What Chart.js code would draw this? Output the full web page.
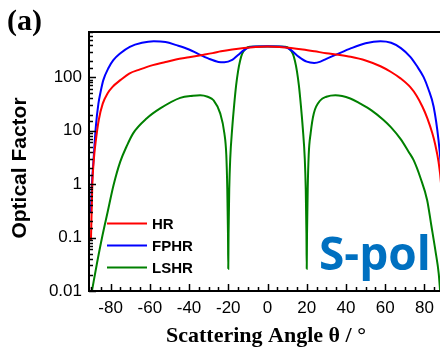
<!DOCTYPE html>
<html>
<head>
<meta charset="utf-8">
<script src="https://cdn.jsdelivr.net/npm/chart.js@4/dist/chart.umd.min.js"></script>
<style>
  html, body { margin: 0; padding: 0; background: #fff; overflow: hidden; }
  #wrap { width: 440px; height: 347px; overflow: hidden; position: relative; }
  canvas { display: block; }
</style>
</head>
<body>
<div id="wrap"><canvas id="chart" width="460" height="347"></canvas></div>
<script>
const seriesNames = ["HR", "FPHR", "LSHR"];
const seriesColors = ["#ff0000", "#0000ff", "#008000"];

const hrAngle = [-90, -89.3, -88.5, -87.5, -86, -84, -81.5, -79, -75, -70.5, -65, -58.5, -52, -46.7, -40, -34, -28, -23.7, -18, -12, -6, 0,
  6, 12, 18, 24, 30, 36, 42.4, 50, 57.6, 63, 67.8, 72.8, 76, 79, 81.5, 84, 85.5, 87.2, 88.5, 89.3, 90];
const hrValue = [0.09, 1, 3, 6.6, 16, 32, 50, 66, 88, 117, 140, 168, 192, 214, 236, 258, 282, 305, 330, 352, 368, 374,
  368, 352, 330, 305, 280, 262, 240, 205, 160, 125, 95, 65, 45, 28, 17, 9, 5.5, 2.6, 1, 0.3, 0.09];

const fphrAngle = [-90, -89.5, -88.7, -87.5, -86.2, -85, -83.7, -81, -78.6, -75, -70.2, -64, -58, -52, -46.4, -40, -35.6, -30, -25, -22, -18, -15, -12, -9, -5, 0,
  5, 9, 12, 16, 20, 23.8, 27, 30, 35.6, 42.4, 50, 57.6, 63, 68, 72.8, 76, 79.6, 82, 84.7, 87.2, 88.5, 89.5, 90];
const fphrValue = [0.3, 1, 2.8, 12, 32, 55, 88, 150, 208, 280, 370, 440, 470, 455, 397, 330, 275, 222, 193, 190, 210, 260, 320, 365, 375, 378,
  375, 365, 320, 240, 195, 185, 195, 220, 270, 345, 430, 470, 440, 350, 240, 165, 100, 60, 28, 6.6, 2, 0.5, 0.3];

const lshrAngle = [-89.5, -87, -84.4, -81.5, -78.5, -75.1, -71.8, -68.5, -61.5, -54.7, -44.5, -38, -34.3, -30.5, -27.5, -24.1, -22, -21, -20.5, -20.15, -20,
  -19.85, -19.5, -19, -18, -17, -16, -15, -14, -13, -11, -9, -4, 0,
  4, 9, 11, 13, 14, 15, 16, 17, 18, 19, 19.5, 19.85, 20,
  20.15, 20.5, 21, 22, 23.6, 27, 30, 34.6, 42.2, 47.3, 53, 59, 63, 67.8, 72, 74.5, 78, 81.4, 83.5, 85.6, 87.3, 88];
const lshrValue = [0.01, 0.032, 0.098, 0.3, 0.95, 2.6, 5.1, 8.9, 17, 26, 41, 45, 46, 43, 37, 21, 9, 3.5, 0.8, 0.12, 0.026,
  0.12, 0.8, 3, 11, 30, 70, 130, 200, 270, 345, 370, 375, 376,
  375, 370, 345, 270, 200, 130, 70, 30, 11, 3, 0.8, 0.12, 0.026,
  0.12, 0.8, 3.5, 9, 21, 37, 43, 46, 40, 32, 24, 16, 11.5, 7, 4, 2.8, 1.3, 0.5, 0.17, 0.057, 0.021, 0.01];

const yTickLabels = [0.01, 0.1, 1, 10, 100];
const xTickLabels = [-80, -60, -40, -20, 0, 20, 40, 60, 80];

function toPoints(angles, values) {
  return angles.map((a, i) => ({ x: a, y: values[i] }));
}

const allSeries = [
  toPoints(hrAngle, hrValue),
  toPoints(fphrAngle, fphrValue),
  toPoints(lshrAngle, lshrValue),
];

// frame, inward ticks, legend and extra labels
const decorPlugin = {
  id: "decor",
  afterDatasetsDraw(chart) {
    const { ctx, chartArea: area, scales } = chart;
    const xs = scales.x, ys = scales.y;
    ctx.save();
    ctx.strokeStyle = "#000";
    ctx.lineWidth = 1.5;

    // x ticks every 5, longer every 20
    for (let v = -90; v <= 90; v += 5) {
      if (v < xs.min || v > xs.max) continue;
      const px = Math.round(xs.getPixelForValue(v)) + 0.5;
      const len = v % 20 === 0 ? 7 : 4;
      ctx.beginPath();
      ctx.moveTo(px, area.bottom);
      ctx.lineTo(px, area.bottom - len);
      ctx.stroke();
    }

    // y ticks from the log scale
    ys.ticks.forEach((t) => {
      const lg = Math.log10(t.value);
      const major = Math.abs(lg - Math.round(lg)) < 1e-6;
      const py = Math.round(ys.getPixelForValue(t.value)) + 0.5;
      ctx.beginPath();
      ctx.moveTo(area.left, py);
      ctx.lineTo(area.left + (major ? 7 : 4), py);
      ctx.stroke();
    });

    // frame
    ctx.lineWidth = 2;
    ctx.strokeRect(area.left, area.top, area.right - area.left, area.bottom - area.top);

    // legend
    const legY = [223.5, 245.5, 267.5];
    ctx.font = "bold 15px 'Liberation Sans', Arial, sans-serif";
    ctx.textBaseline = "middle";
    ctx.textAlign = "left";
    seriesNames.forEach((name, i) => {
      ctx.strokeStyle = seriesColors[i];
      ctx.lineWidth = 2;
      ctx.beginPath();
      ctx.moveTo(107, legY[i]);
      ctx.lineTo(147, legY[i]);
      ctx.stroke();
      ctx.fillStyle = "#000";
      ctx.fillText(name, 152, legY[i] + 1);
    });

    // S-pol label
    ctx.fillStyle = "#0070c0";
    ctx.font = "bold 46px 'Open Sans', 'Noto Sans', sans-serif";
    ctx.textBaseline = "alphabetic";
    ctx.fillText("S-pol", 319, 270);

    // panel label
    ctx.fillStyle = "#000";
    ctx.font = "bold 30px 'Liberation Serif', 'Times New Roman', serif";
    ctx.fillText("(a)", 7, 30);

    // x title
    ctx.textAlign = "center";
    ctx.font = "bold 22px 'Liberation Serif', 'Times New Roman', serif";
    ctx.fillText("Scattering Angle \u03b8 / \u00b0", 266, 342);

    // y title
    ctx.translate(26, 168);
    ctx.rotate(-Math.PI / 2);
    ctx.font = "bold 21px 'Liberation Sans', Arial, sans-serif";
    ctx.fillText("Optical Factor", 0, 0);
    ctx.restore();
  },
};

new Chart(document.getElementById("chart"), {
  type: "line",
  data: {
    datasets: allSeries.map((pts, i) => ({
      label: seriesNames[i],
      data: pts,
      borderColor: seriesColors[i],
      backgroundColor: seriesColors[i],
      borderWidth: 2,
      pointRadius: 0,
      cubicInterpolationMode: "monotone",
      fill: false,
    })),
  },
  options: {
    responsive: false,
    animation: false,
    devicePixelRatio: 1,
    layout: { padding: { top: 32, right: 14, left: 0, bottom: 0 } },
    plugins: { legend: { display: false }, tooltip: { enabled: false } },
    scales: {
      x: {
        type: "linear",
        min: -91,
        max: 91,
        grid: { display: false, drawTicks: false },
        border: { display: false },
        afterBuildTicks(scale) {
          scale.ticks = xTickLabels.map((v) => ({ value: v }));
        },
        ticks: {
          padding: 7,
          color: "#000",
          font: { family: "'Liberation Sans', Arial, sans-serif", size: 17 },
          maxRotation: 0,
          autoSkip: false,
        },
        afterFit(scale) { scale.height = 56; },
      },
      y: {
        type: "logarithmic",
        min: 0.01,
        max: 700,
        grid: { display: false, drawTicks: false },
        border: { display: false },
        ticks: {
          padding: 7,
          color: "#000",
          autoSkip: false,
          font: { family: "'Liberation Sans', Arial, sans-serif", size: 17 },
          callback(value) {
            const hit = yTickLabels.find((t) => Math.abs(t - value) / t < 1e-6);
            return hit === undefined ? "" : String(hit);
          },
        },
        afterFit(scale) { scale.width = 89; },
      },
    },
  },
  plugins: [decorPlugin],
});
</script>
</body>
</html>
